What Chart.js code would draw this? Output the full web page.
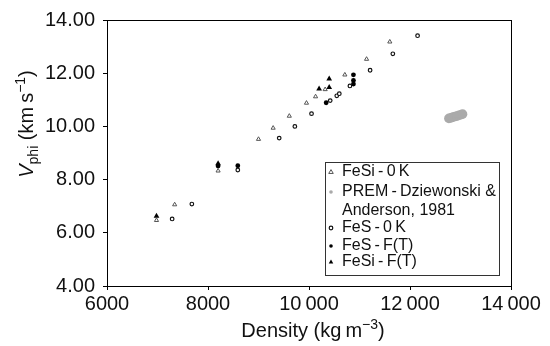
<!DOCTYPE html>
<html>
<head>
<meta charset="utf-8">
<script src="https://cdn.jsdelivr.net/npm/chart.js@4.4.0/dist/chart.umd.min.js"></script>
<style>
  body { margin: 0; background: #fff; }
</style>
</head>
<body>
<canvas id="vphiChart" width="550" height="346"></canvas>
<script>
// values
const fesi0kDensity = [6980, 7340, 8200, 9000, 9290, 9610, 9950, 10130, 10320, 10710, 11140, 11600];
const fesi0kVphi = [6.47, 7.06, 8.33, 9.52, 9.94, 10.39, 10.88, 11.12, 11.39, 11.94, 12.53, 13.18];

const premDensity = [12770, 12810, 12850, 12890, 12930, 12970, 13010, 13040];
const premVphi = [10.30, 10.32, 10.35, 10.37, 10.39, 10.42, 10.44, 10.46];

const fes0kDensity = [7290, 7680, 8590, 9410, 9720, 10050, 10420, 10550, 10600, 10810, 11210, 11660, 12150];
const fes0kVphi = [6.52, 7.08, 8.36, 9.56, 10.0, 10.48, 10.97, 11.15, 11.23, 11.52, 12.11, 12.73, 13.41];

const fesFtDensity = [8200, 8590, 10340, 10880, 10880, 10880];
const fesFtVphi = [8.51, 8.52, 10.89, 11.59, 11.73, 11.94];

const fesiFtDensity = [6980, 8200, 10200, 10400, 10400];
const fesiFtVphi = [6.63, 8.6, 11.41, 11.47, 11.79];

const xTicks = [6000, 8000, 10000, 12000, 14000];
const yTicks = [4, 6, 8, 10, 12, 14];

const FONT = "'Liberation Sans', Arial, sans-serif";

function pts(xs, ys) {
  return xs.map((x, i) => ({ x: x, y: ys[i] }));
}

const series = [
  { label: "FeSi\u2009-\u20090\u2009K", data: pts(fesi0kDensity, fesi0kVphi), pointStyle: "triangle",
    radius: 2.4, backgroundColor: "#fff", borderColor: "#555", borderWidth: 1 },
  { label: "PREM\u2009-\u2009Dziewonski &\nAnderson, 1981", data: pts(premDensity, premVphi), pointStyle: "circle",
    radius: 4.8, backgroundColor: "#aaa", borderColor: "#aaa", borderWidth: 0 },
  { label: "FeS\u2009-\u20090\u2009K", data: pts(fes0kDensity, fes0kVphi), pointStyle: "circle",
    radius: 1.8, backgroundColor: "#fff", borderColor: "#111", borderWidth: 1.2 },
  { label: "FeS\u2009-\u2009F(T)", data: pts(fesFtDensity, fesFtVphi), pointStyle: "circle",
    radius: 2.4, backgroundColor: "#000", borderColor: "#000", borderWidth: 0 },
  { label: "FeSi\u2009-\u2009F(T)", data: pts(fesiFtDensity, fesiFtVphi), pointStyle: "triangle",
    radius: 3.3, backgroundColor: "#000", borderColor: "#000", borderWidth: 0 },
];

function marker(ctx, style, x, y, r, fill, stroke, lw) {
  ctx.beginPath();
  if (style === "triangle") {
    ctx.moveTo(x, y - r);
    ctx.lineTo(x + r * 0.95, y + r * 0.6);
    ctx.lineTo(x - r * 0.95, y + r * 0.6);
    ctx.closePath();
  } else {
    ctx.arc(x, y, r, 0, Math.PI * 2);
  }
  ctx.fillStyle = fill;
  ctx.fill();
  if (lw > 0) {
    ctx.lineWidth = lw;
    ctx.strokeStyle = stroke;
    ctx.stroke();
  }
}

// draws runs of text with optional sub/superscripts, centred at 0,0
function richText(ctx, parts) {
  let total = 0;
  parts.forEach((p) => {
    ctx.font = p.font;
    p.w = ctx.measureText(p.t).width;
    total += p.w;
  });
  let x = -total / 2;
  ctx.textAlign = "left";
  ctx.textBaseline = "alphabetic";
  parts.forEach((p) => {
    ctx.font = p.font;
    ctx.fillText(p.t, x, 7 + (p.dy || 0));
    x += p.w;
  });
}

const framePlugin = {
  id: "frame",
  afterDraw(chart) {
    const ctx = chart.ctx;
    const a = chart.chartArea;
    ctx.save();
    ctx.strokeStyle = "#000";
    ctx.lineWidth = 1;
    ctx.strokeRect(a.left + 0.5, a.top + 0.5, a.right - a.left, a.bottom - a.top);

    // legend box
    const lx = 325, ly = 162, lw = 174, lh = 113;
    ctx.fillStyle = "#fff";
    ctx.fillRect(lx, ly, lw, lh);
    ctx.strokeStyle = "#333";
    ctx.strokeRect(lx + 0.5, ly + 0.5, lw, lh);
    const rows = [172, 192, 228, 246, 262];
    ctx.font = "16px " + FONT;
    ctx.textBaseline = "middle";
    ctx.textAlign = "left";
    chart.data.datasets.forEach((ds, i) => {
      const y = rows[i];
      const r = ds.pointStyle === "triangle" ? Math.min(ds.radius, 2.4) : Math.min(ds.radius, 1.8);
      marker(ctx, ds.pointStyle, 331, y, r, ds.backgroundColor, ds.borderColor, ds.borderWidth);
      ctx.fillStyle = "#111";
      ctx.font = "16px " + FONT;
      ds.label.split("\n").forEach((line, k) => {
        ctx.fillText(line, 342, y + k * 19);
      });
    });

    // y title
    ctx.fillStyle = "#111";
    ctx.save();
    ctx.translate(26, 124);
    ctx.rotate(-Math.PI / 2);
    richText(ctx, [
      { t: "V", font: "italic 20px " + FONT },
      { t: "phi", font: "14px " + FONT, dy: 5 },
      { t: " (km\u2009s", font: "20px " + FONT },
      { t: "\u22121", font: "14px " + FONT, dy: -8 },
      { t: ")", font: "20px " + FONT },
    ]);
    ctx.restore();

    // x title
    ctx.save();
    ctx.translate(313, 330);
    richText(ctx, [
      { t: "Density (kg\u2009m", font: "20px " + FONT },
      { t: "\u22123", font: "14px " + FONT, dy: -8 },
      { t: ")", font: "20px " + FONT },
    ]);
    ctx.restore();
    ctx.restore();
  },
};

const ctx = document.getElementById("vphiChart").getContext("2d");

new Chart(ctx, {
  type: "scatter",
  data: { datasets: series },
  options: {
    responsive: false,
    animation: false,
    layout: { padding: { top: 20, right: 39, left: 0, bottom: 0 } },
    plugins: { legend: { display: false }, tooltip: { enabled: false } },
    scales: {
      x: {
        min: 6000,
        max: 14000,
        afterFit: (s) => { s.height = 60; },
        afterBuildTicks: (s) => { s.ticks = xTicks.map((v) => ({ value: v })); },
        grid: { drawOnChartArea: false, tickLength: 4, color: "#000" },
        border: { color: "#000" },
        ticks: {
          padding: 2,
          color: "#111",
          font: { size: 20, family: FONT },
          maxRotation: 0,
          callback: (v) => (v >= 10000 ? String(v).replace(/(\d{3})$/, "\u2009$1") : String(v)),
        },
      },
      y: {
        min: 4,
        max: 14,
        afterFit: (s) => { s.width = 107; },
        afterBuildTicks: (s) => { s.ticks = yTicks.map((v) => ({ value: v })); },
        grid: { drawOnChartArea: false, tickLength: 4, color: "#000" },
        border: { color: "#000" },
        ticks: {
          padding: 8,
          color: "#111",
          font: { size: 20, family: FONT },
          callback: (v) => Number(v).toFixed(2),
        },
      },
    },
  },
  plugins: [framePlugin],
});
</script>
</body>
</html>
